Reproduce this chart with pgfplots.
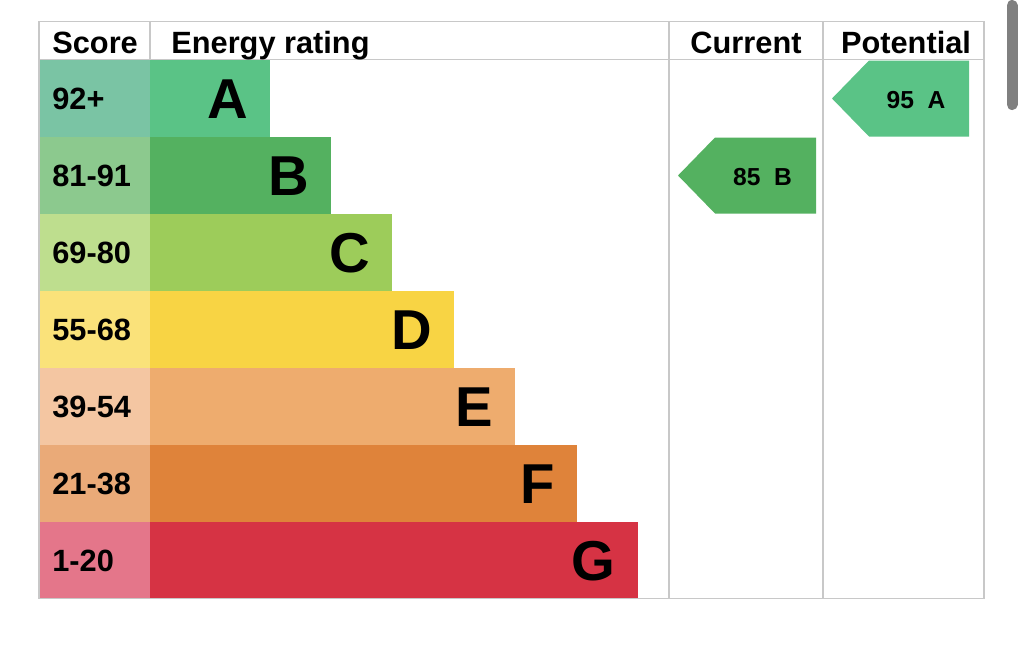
\documentclass[border=0pt]{standalone}
\usepackage{pgfplots}
\pgfplotsset{compat=1.18}
\usepackage{fontspec}
\setmainfont{Liberation Sans}

\definecolor{barA}{RGB}{90,195,134}
\definecolor{barB}{RGB}{84,177,96}
\definecolor{barC}{RGB}{157,204,90}
\definecolor{barD}{RGB}{248,212,68}
\definecolor{barE}{RGB}{238,172,110}
\definecolor{barF}{RGB}{223,131,58}
\definecolor{barG}{RGB}{214,51,68}
\definecolor{scA}{RGB}{122,196,164}
\definecolor{scB}{RGB}{140,201,142}
\definecolor{scC}{RGB}{190,222,142}
\definecolor{scD}{RGB}{250,226,122}
\definecolor{scE}{RGB}{244,198,162}
\definecolor{scF}{RGB}{234,170,120}
\definecolor{scG}{RGB}{228,118,138}
\definecolor{gridc}{RGB}{200,200,200}

% band: top, bottom, bar end, bar colour, score colour, score text, letter
\newcommand\band[7]{%
  \addplot[fill=#5, draw=none] coordinates {(39,#1) (150,#1) (150,#2) (39,#2)} -- cycle;
  \addplot[fill=#4, draw=none] coordinates {(150,#1) (#3,#1) (#3,#2) (150,#2)} -- cycle;
  \node[anchor=base west, inner sep=0pt, font=\bfseries\fontsize{17.5}{18}\selectfont]
    at (axis cs:52,{(#1+#2)/2+11}) {#6};
  \node[anchor=base east, font=\bfseries\fontsize{32}{32}\selectfont, inner sep=0pt]
    at (axis cs:{#3-22},{(#1+#2)/2+20.5}) {#7};
}
% arrow: tip x, top, bottom, body start, right, colour, text
\newcommand\arrowtag[7]{%
  \addplot[fill=#6, draw=none] coordinates
    {(#1,{(#2+#3)/2}) (#4,#2) (#5,#2) (#5,#3) (#4,#3)} -- cycle;
  \node[anchor=base, font=\bfseries\fontsize{14}{14}\selectfont]
    at (axis cs:{(#4+#5)/2-3},{(#2+#3)/2+9.5}) {#7};
}

\begin{document}
\begin{tikzpicture}
\begin{axis}[
    width=204.8mm, height=128.6mm, scale only axis,
    xmin=0, xmax=1024, ymin=0, ymax=643, y dir=reverse,
    hide axis, clip=false,
]
% background, keeps the page at the full size
\addplot[fill=white, draw=none] coordinates {(0,0) (1024,0) (1024,643) (0,643)} -- cycle;

\band{58}{135}{270}{barA}{scA}{92+}{A}
\band{135}{212}{331}{barB}{scB}{81-91}{B}
\band{212}{289}{392}{barC}{scC}{69-80}{C}
\band{289}{366}{454}{barD}{scD}{55-68}{D}
\band{366}{443}{515}{barE}{scE}{39-54}{E}
\band{443}{520}{577}{barF}{scF}{21-38}{F}
\band{520}{597}{638}{barG}{scG}{1-20}{G}

% table lines
\addplot[gridc, line width=0.75pt] coordinates {(39,20) (984,20) (984,597) (39,597) (39,20)};
\addplot[gridc, line width=0.75pt] coordinates {(39,58) (984,58)};
\addplot[gridc, line width=0.75pt] coordinates {(150,20) (150,58)};
\addplot[gridc, line width=0.75pt] coordinates {(669,20) (669,597)};
\addplot[gridc, line width=0.75pt] coordinates {(823,20) (823,597)};

% current and potential
\arrowtag{678}{136}{212}{715}{816}{barB}{85\hspace{0.55em}B}
\arrowtag{832}{59}{135}{869}{969}{barA}{95\hspace{0.55em}A}

% headers
\node[anchor=base west, inner sep=0pt, font=\bfseries\fontsize{17.5}{18}\selectfont] at (axis cs:52,52) {Score};
\node[anchor=base west, inner sep=0pt, font=\bfseries\fontsize{17.5}{18}\selectfont] at (axis cs:171,52) {Energy rating};
\node[anchor=base, font=\bfseries\fontsize{17.5}{18}\selectfont] at (axis cs:746,52) {Current};
\node[anchor=base, font=\bfseries\fontsize{17.5}{18}\selectfont] at (axis cs:906,52) {Potential};

% scroll bar
\addplot[gray, line width=2.2mm, line cap=round] coordinates {(1012,4) (1012,103)};
\end{axis}
\end{tikzpicture}
\end{document}
